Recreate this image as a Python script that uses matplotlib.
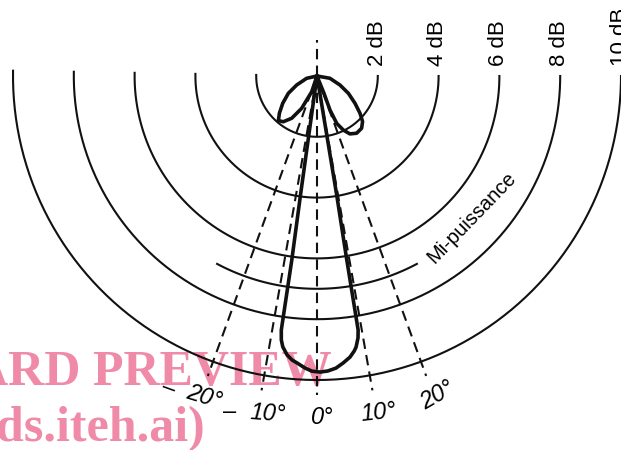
"""
Diagramme de rayonnement (gain en dB) tracé en coordonnées polaires
"""
import numpy as np
import matplotlib.pyplot as plt

# cercles de niveau (dB)
niveaux = [2, 4, 6, 8, 10]
etiquettes_niveaux = ['2 dB', '4 dB', '6 dB', '8 dB', '10 dB']
# arc de mi-puissance
niveau_mi_puissance = 7.0
demi_ouverture_mi_puissance = 28

# directions repérées (degrés) et leurs étiquettes
angles_reperes = [-20, -10, 0, 10, 20]
etiquettes_angles = ['20°', '10°', '0°', '10°', '20°']
longueur_reperes = 10.5

# diagramme relevé : angle (degrés, 0 = vers le bas) et gain (dB)
angles_diagramme = [
    -80, -77.4, -66.1, -58.9, -51.5, -45.3, -40.9, -36.4, -30.9, -25.4, -18.7, -15,
    -7.9, -7.8, -8.0, -7.7, -7.2, -6.1, -5.0, -4.0, -2.4, -1.0, 0.6, 2.1, 3.7,
    5.2, 6.7, 7.7, 8.2, 8.9, 9.2, 9.2, 9.4, 9.5,
    22.0, 20.9, 22.6, 26.0, 29.6, 34.7, 40.5, 45.0, 49.1, 54.3, 61.1, 68.6, 80.0, 85,
]
gains_diagramme = [
    0, 0.35, 0.73, 1.10, 1.44, 1.74, 1.94, 1.87, 1.62, 1.18, 0.55, 0,
    3.95, 6.10, 8.44, 8.76, 8.98, 9.23, 9.38, 9.46, 9.61, 9.71, 9.74, 9.71, 9.63,
    9.48, 9.31, 9.13, 9.01, 8.72, 8.46, 6.13, 3.97, 0,
    0.61, 1.20, 1.69, 1.98, 2.19, 2.29, 2.26, 2.12, 1.87, 1.54, 1.18, 0.81, 0.43, 0,
]

if __name__ == '__main__':
    L, H = 621, 450
    cx, cy = 317, 76          # centre du diagramme (pixels)
    px_db = 30.4              # pixels par dB
    r_max = 12
    R = r_max * px_db

    fig = plt.figure(figsize=(L / 100, H / 100), dpi=100)
    ax = fig.add_axes([(cx - R) / L, (H - cy - R) / H, 2 * R / L, 2 * R / H],
                      projection='polar')
    ax.set_theta_zero_location('S')
    ax.set_theta_direction(1)
    ax.set_rlim(0, r_max)
    ax.set_axis_off()

    noir = '#111111'
    police = 'Liberation Sans'

    # cercles de niveau (demi-cercles inférieurs)
    t_arc = np.radians(np.linspace(-91, 90, 300))
    for n, etiq in zip(niveaux, etiquettes_niveaux):
        ax.plot(t_arc, np.full_like(t_arc, n), color=noir, lw=1.5)
        ax.annotate(etiq, xy=(np.pi / 2, n), xytext=(-0.5, 7),
                    textcoords='offset points', rotation=90,
                    ha='center', va='bottom', fontsize=16, family=police,
                    annotation_clip=False)

    # arc de mi-puissance
    t_mp = np.radians(np.linspace(-demi_ouverture_mi_puissance,
                                  demi_ouverture_mi_puissance, 100))
    ax.plot(t_mp, np.full_like(t_mp, niveau_mi_puissance), color=noir, lw=1.5)
    ax.text(np.radians(47.5), 6.92, 'Mi-puissance', rotation=46,
            rotation_mode='anchor', ha='center', va='center',
            fontsize=14.5, family=police)

    # directions repérées en tirets
    tirets = (0, (5, 3))
    for a in angles_reperes:
        ax.plot([np.radians(a)] * 2, [0, longueur_reperes], color=noir,
                lw=1.5, linestyle=tirets)
    ax.plot([np.pi, np.pi], [0, 1.2], color=noir, lw=1.5, linestyle=tirets)

    # étiquettes des angles
    positions = [(-19.4, 11.2, -17), (-8.25, 11.23, -4), (0.84, 11.22, 0),
                 (10.26, 11.27, 6), (20.6, 11.21, 30)]
    for (t, r, rot), etiq in zip(positions, etiquettes_angles):
        ax.text(np.radians(t), r, etiq, rotation=rot, rotation_mode='anchor',
                ha='center', va='center', fontsize=17, family=police,
                style='italic')
    ax.text(np.radians(-25.4), 11.36, '–', rotation=-20, rotation_mode='anchor',
            ha='center', va='center', fontsize=17, family=police)
    ax.text(np.radians(-14.5), 11.42, '–', rotation=0,
            ha='center', va='center', fontsize=17, family=police)

    # diagramme de rayonnement
    ax.plot(np.radians(angles_diagramme), gains_diagramme, color=noir, lw=2.6,
            solid_joinstyle='round', solid_capstyle='round')

    # filigrane
    rose = '#ef8aa8'
    fig.text(332 / L, 1 - 385 / H, 'ARD PREVIEW', ha='right', va='baseline',
             fontsize=36, family='Liberation Serif', weight='bold', color=rose,
             zorder=-1)
    fig.text(205 / L, 1 - 441 / H, 'ds.iteh.ai)', ha='right', va='baseline',
             fontsize=36, family='Liberation Serif', weight='bold', color=rose,
             zorder=-1)

    fig.savefig('out.png', dpi=100, facecolor='white')
